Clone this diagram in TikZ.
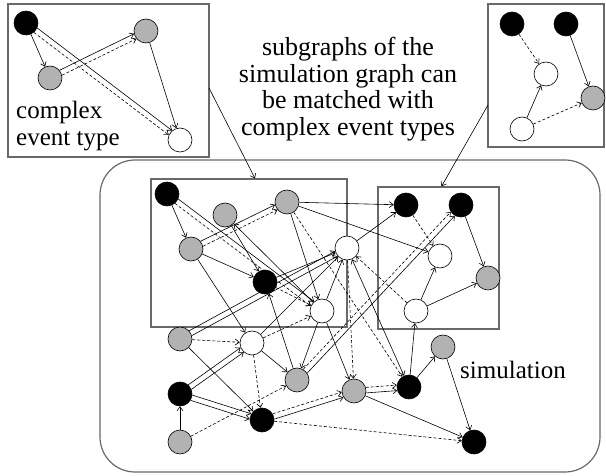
\documentclass[tikz,border=0pt]{standalone}
\usepackage{fontspec}
\setmainfont{Liberation Serif}
\usetikzlibrary{arrows.meta,positioning,calc}
\definecolor{evgray}{RGB}{178,178,178}
\definecolor{framegray}{RGB}{105,105,105}

\begin{document}
\begin{tikzpicture}[x=1pt,y=-1pt,>={Straight Barb[length=4pt,width=6pt]},
  ev/.style={draw,circle,line width=0.6pt,minimum size=24pt,inner sep=0pt},
  blk/.style={ev,fill=black},
  gry/.style={ev,fill=evgray},
  wht/.style={ev,fill=white},
  frame/.style={draw=framegray,line width=1.2pt,inner sep=0pt},
  sol/.style={->,line width=0.6pt},
  dsh/.style={->,line width=0.6pt,dash pattern=on 3pt off 2pt},
  lbl/.style={font=\fontsize{25}{27}\selectfont}]
  \useasboundingbox (0,0) rectangle (606,476);
  % frames
  \node[frame,minimum width=201pt,minimum height=153pt] (cetbox) at (108.5,80.5) {};
  \node[frame,minimum width=116pt,minimum height=143pt] (rtbox) at (546,75.5) {};
  \draw[frame,rounded corners=35pt] (100,160) rectangle (600,472);
  \node[frame,minimum width=196pt,minimum height=148pt] (lbox) at (249,253) {};
  \node[frame,minimum width=121pt,minimum height=142pt] (rbox) at (438.5,258) {};
  % texts
  \node[lbl,anchor=north west,align=left,inner sep=0pt] (cetlbl) at (16,101) {complex\\event type};
  \node[lbl,font=\fontsize{26}{26.5}\selectfont,align=center] (note) at (348,89) {subgraphs of the\\simulation graph can\\be matched with\\complex event types};
  \node[lbl,anchor=base west,inner sep=0pt] (simlbl) at (460,378) {simulation};
  % complex event type (left)
  \node[blk] (ta) at (26,23) {};
  \node[gry] (tb) at (146,31) {};
  \node[gry] (tc) at (50,78) {};
  \node[wht] (td) at (180,140) {};
  \draw[sol] (ta) -- (tc);
  \draw[sol] (tc.39) -- (tb.193);
  \draw[dsh] (tc.13) -- (tb.219);
  \draw[sol] (ta.-24) -- (td.130);
  \draw[dsh] (ta.-50) -- (td.156);
  \draw[sol] (tb) -- (td);
  % complex event type (right)
  \node[blk] (ra) at (512,24) {};
  \node[blk] (rb) at (566,24) {};
  \node[wht] (rc) at (546,74) {};
  \node[gry] (rd) at (593,98) {};
  \node[wht] (re) at (522,129) {};
  \draw[dsh] (ra) -- (rc);
  \draw[sol] (rb) -- (rd);
  \draw[sol] (re) -- (rc);
  \draw[dsh] (re) -- (rd);
  % simulation graph
  \node[blk] (A) at (167,194) {};
  \node[gry] (B) at (225,215) {};
  \node[gry] (C) at (287,202) {};
  \node[gry] (D) at (191,249) {};
  \node[blk] (E) at (265,282) {};
  \node[wht] (F) at (347,248) {};
  \node[wht] (G) at (322,311) {};
  \node[gry] (H) at (180,339) {};
  \node[wht] (I) at (252,343) {};
  \node[blk] (J) at (406,205) {};
  \node[blk] (K) at (461,205) {};
  \node[wht] (L) at (440,256) {};
  \node[gry] (M) at (488,278) {};
  \node[wht] (N) at (416,311) {};
  \node[gry] (O) at (443,347) {};
  \node[gry] (P) at (297,380) {};
  \node[blk] (Q) at (180,394) {};
  \node[blk] (R) at (262,420) {};
  \node[gry] (S) at (180,442) {};
  \node[gry] (T) at (354,391) {};
  \node[blk] (U) at (409,387) {};
  \node[blk] (V) at (474,442) {};
  \draw[sol] (A) -- (D);
  \draw[sol] (A.-24) -- (G.130);
  \draw[dsh] (A.-50) -- (G.156);
  \draw[sol] (D.39) -- (C.193);
  \draw[dsh] (D.13) -- (C.219);
  \draw[sol] (C) -- (G);
  \draw[sol] (B) -- (E);
  \draw[sol] (G) -- (B);
  \draw[sol] (D) -- (E);
  \draw[sol] (D) -- (I);
  \draw[sol] (C) -- (J);
  \draw[sol] (C) -- (L);
  \draw[dsh] (C) -- (U);
  \draw[sol] (F) -- (J);
  \draw[sol] (H.42) -- (F.195);
  \draw[sol] (H.16) -- (F.221);
  \draw[sol] (Q.48) -- (I.202);
  \draw[sol] (Q.22) -- (I.228);
  \draw[sol] (E) -- (F);
  \draw[dsh] (E) -- (G);
  \draw[sol] (G) -- (F);
  \draw[sol,<->] (F) -- (U);
  \draw[dsh] (N) -- (F);
  \draw[dsh] (F) -- (T);
  \draw[sol] (P) -- (E);
  \draw[sol] (G) -- (T);
  \draw[sol] (G) -- (P);
  \draw[dsh] (I) -- (G);
  \draw[sol] (I) -- (P);
  \draw[dsh] (I) -- (R);
  \draw[sol] (I) -- (F);
  \draw[sol] (P.34) -- (K.240);
  \draw[dsh] (P.60) -- (K.214);
  \draw[dsh] (J) -- (L);
  \draw[sol] (K) -- (M);
  \draw[sol] (N) -- (L);
  \draw[sol] (N) -- (M);
  \draw[sol] (U) -- (N);
  \draw[sol] (U) -- (O);
  \draw[sol] (O) -- (V);
  \draw[sol] (T.-9) -- (U.197);
  \draw[dsh] (T.17) -- (U.171);
  \draw[sol] (T) -- (V);
  \draw[dsh] (R) -- (V);
  \draw[sol] (R.4) -- (T.211);
  \draw[dsh] (R.30) -- (T.185);
  \draw[dsh] (S) -- (P);
  \draw[sol] (S) -- (Q);
  \draw[sol] (Q.-5) -- (R.150);
  \draw[sol] (Q.-31) -- (R.176);
  \draw[sol] (H) -- (R);
  \draw[dsh] (H) -- (I);
  % matching connectors
  \coordinate (cetpt) at (209,88);
  \coordinate (rtpt) at (488,105);
  \draw[sol] (cetpt) -- ([xshift=6pt]lbox.north);
  \draw[sol] (rtpt) -- ([xshift=3pt]rbox.north);
\end{tikzpicture}
\end{document}
